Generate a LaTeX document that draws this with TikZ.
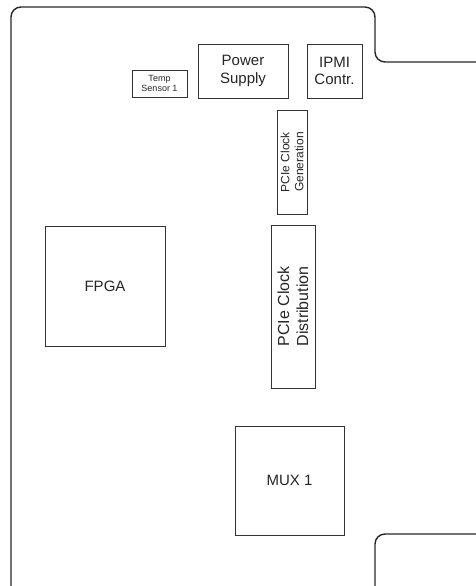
\documentclass[tikz,border=0pt]{standalone}
\usepackage{fontspec}
\setmainfont{Liberation Sans}
\begin{document}
\begin{tikzpicture}[x=1pt,y=-1pt,
  outline/.style={draw=black!85,line width=1.4pt,rounded corners=10pt},
  blk/.style={draw=black!80,line width=0.9pt,fill=white,inner sep=0pt,align=center,text=black!85},
  big/.style={font=\fontsize{15}{17.5}\selectfont},
  mid/.style={font=\fontsize{12}{14}\selectfont},
  dist/.style={font=\fontsize{16}{19}\selectfont},
  tiny/.style={font=\fontsize{9}{10.5}\selectfont}]
\useasboundingbox (0,0) rectangle (475,586);
% board outline
\draw[outline] (11,590) -- (11,7) -- (375,7) -- (375,62) -- (476,62);
\draw[outline] (476,534) -- (375,534) -- (375,590);
% blocks
\node[blk,tiny,minimum width=55pt,minimum height=27pt] (temp) at (159.5,83.5) {Temp\\Sensor 1};
\node[blk,big,minimum width=90pt,minimum height=54pt] (psu) at (243,71) {Power\\Supply};
\node[blk,big,minimum width=55pt,minimum height=54pt] (ipmi) at (334.5,71) {IPMI\\Contr.};
\node[blk,mid,rotate=90,minimum width=104pt,minimum height=30pt] (gen) at (292,162) {PCIe Clock\\Generation};
\node[blk,dist,rotate=90,minimum width=163pt,minimum height=44pt] (dist) at (293,306.5) {PCIe Clock\\Distribution};
\node[blk,big,minimum width=120pt,minimum height=120pt] (fpga) at (105,286) {FPGA};
\node[blk,big,minimum width=109pt,minimum height=109pt] (mux) at (289.5,480.5) {MUX 1};
\end{tikzpicture}
\end{document}
